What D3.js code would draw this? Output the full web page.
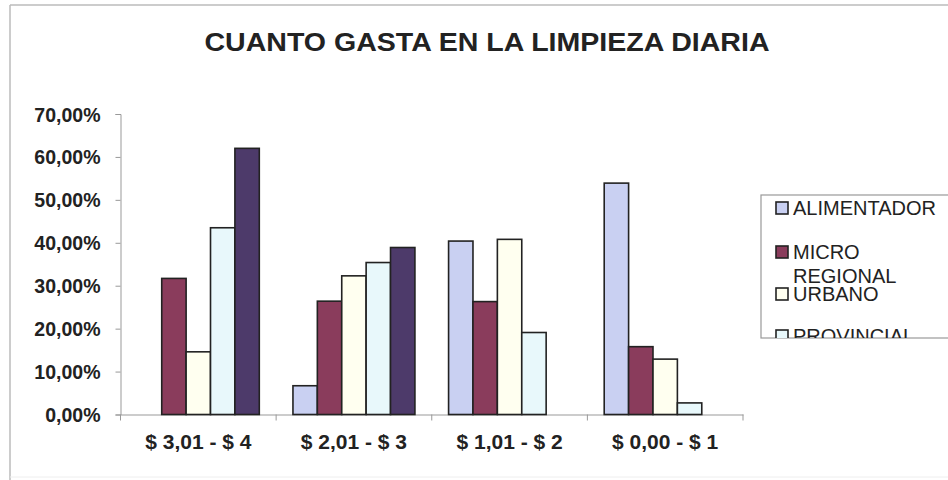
<!DOCTYPE html>
<html><head><meta charset="utf-8">
<script src="https://cdn.jsdelivr.net/npm/d3@7/dist/d3.min.js"></script>
<style>html,body{margin:0;padding:0;background:#fff;}svg{display:block;font-family:"Liberation Sans",Arial,sans-serif;}</style>
</head><body>
<svg id="c" width="948" height="480"></svg>
<script>
const title = "CUANTO GASTA EN LA LIMPIEZA DIARIA";
const categories = ["$ 3,01 - $ 4", "$ 2,01 - $ 3", "$ 1,01 - $ 2", "$ 0,00 - $ 1"];
const seriesNames = ["ALIMENTADOR", "MICRO REGIONAL", "URBANO", "PROVINCIAL", "INTERPROVINCIAL"];
const alimentador = [0, 6.7, 40.4, 53.9];
const microRegional = [31.7, 26.4, 26.3, 15.8];
const urbano = [14.6, 32.3, 40.8, 12.9];
const provincial = [43.5, 35.4, 19.1, 2.7];
const interprovincial = [62.0, 38.9, 0, 0];
const yTicks = [0, 10, 20, 30, 40, 50, 60, 70];
const colors = ["#c9d0f2", "#8a3c5c", "#fffff0", "#e8f8fb", "#4d3a6a"];

const seriesValues = [alimentador, microRegional, urbano, provincial, interprovincial];
const svg = d3.select("#c");

// outer chart border
svg.append("line").attr("x1",10).attr("x2",948).attr("y1",5).attr("y2",5).attr("stroke","#bbb").attr("stroke-width",1.5);
svg.append("line").attr("x1",10).attr("x2",10).attr("y1",5).attr("y2",480).attr("stroke","#bbb").attr("stroke-width",1.5);
svg.append("line").attr("x1",10).attr("x2",948).attr("y1",477).attr("y2",477).attr("stroke","#eee").attr("stroke-width",1);

svg.append("text").attr("x",487).attr("y",51).attr("text-anchor","middle")
  .attr("font-size",26).attr("font-weight","bold").attr("fill","#222")
  .attr("textLength",565).attr("lengthAdjust","spacingAndGlyphs").text(title);

const x0 = 120.5, x1 = 743, yb = 414.5, yt = 114;
const x = d3.scaleBand().domain(categories).range([x0, x1]).paddingInner(0).paddingOuter(0);
const xs = d3.scaleBand().domain(d3.range(seriesNames.length)).range([0, x.bandwidth()]).paddingOuter(0.69).paddingInner(0);
const y = d3.scaleLinear().domain([0, 70]).range([yb, yt]);

// y axis
const yAxis = svg.append("g").attr("transform",`translate(${x0},0)`)
  .call(d3.axisLeft(y).tickValues(yTicks).tickSize(5).tickFormat(d => d.toFixed(2).replace(".", ",") + "%"));
yAxis.select(".domain").attr("stroke","#999");
yAxis.selectAll(".tick line").attr("stroke","#999");
yAxis.selectAll("text").attr("font-size",19.5).attr("font-weight","bold").attr("fill","#222")
  .attr("x",-20).attr("dy","0.36em").attr("font-family","Liberation Sans, Arial, sans-serif");

// x axis
const xAxis = svg.append("g").attr("transform",`translate(0,${yb})`)
  .call(d3.axisBottom(x).tickSize(0).tickPadding(0));
xAxis.select(".domain").attr("stroke","#999");
xAxis.selectAll(".tick text").attr("font-size",21).attr("font-weight","bold").attr("fill","#222")
  .attr("y",34).attr("dy",0).attr("font-family","Liberation Sans, Arial, sans-serif");
// category boundary ticks
xAxis.selectAll(".bt").data(d3.range(categories.length + 1)).enter().append("line")
  .attr("x1", i => x0 + i * x.step()).attr("x2", i => x0 + i * x.step())
  .attr("y1", 0).attr("y2", 6).attr("stroke","#999");

// bars
const groups = svg.append("g").selectAll("g").data(categories).enter().append("g")
  .attr("transform", d => `translate(${x(d)},0)`);
groups.selectAll("rect").data((c, ci) => seriesValues.map((s, si) => ({si, v: s[ci]})).filter(d => d.v > 0))
  .enter().append("rect")
  .attr("x", d => xs(d.si)).attr("width", xs.bandwidth())
  .attr("y", d => y(d.v)).attr("height", d => yb - y(d.v))
  .attr("fill", d => colors[d.si]).attr("stroke","#222").attr("stroke-width",1.6);

// legend (box is cut off as in the original; only first four entries visible)
const lg = svg.append("g");
svg.append("clipPath").attr("id","lgclip").append("rect").attr("x",761).attr("y",195).attr("width",200).attr("height",143);
lg.append("rect").attr("x",761).attr("y",195).attr("width",200).attr("height",143).attr("fill","#fff").attr("stroke","#999").attr("stroke-width",1.2);
const li = lg.append("g").attr("clip-path","url(#lgclip)");
const legendRows = [
  {lines:["ALIMENTADOR"], y:208},
  {lines:["MICRO","REGIONAL"], y:252},
  {lines:["URBANO"], y:294},
  {lines:["PROVINCIAL"], y:336}
];
legendRows.forEach((r, i) => {
  li.append("rect").attr("x",776).attr("y",r.y-6).attr("width",12).attr("height",12)
    .attr("fill",colors[i]).attr("stroke","#222").attr("stroke-width",1.6);
  r.lines.forEach((t, k) => {
    li.append("text").attr("x",793).attr("y",r.y + 7 + k*24).attr("font-size",20).attr("fill","#222").text(t);
  });
});
</script>
</body></html>
